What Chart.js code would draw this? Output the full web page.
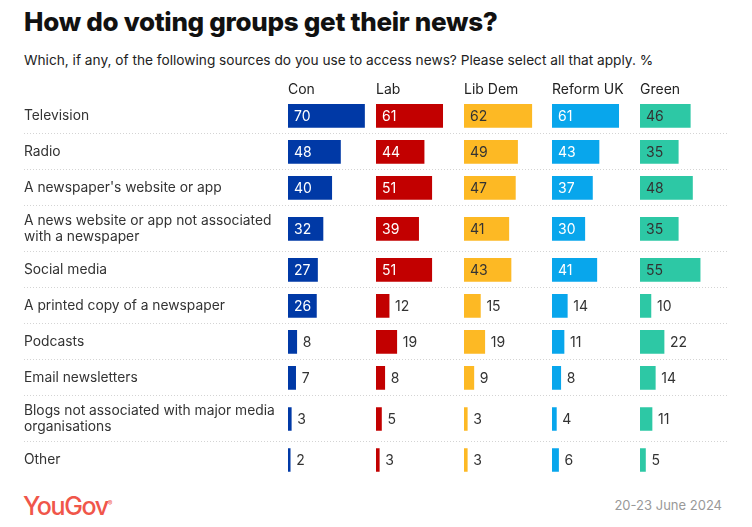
<!DOCTYPE html>
<html lang="en">
<head>
  <meta charset="UTF-8" />
  <title>How do voting groups get their news?</title>
  <script src="https://cdn.jsdelivr.net/npm/chart.js"></script>
  <style>
    body {
      margin: 0;
      width: 752px;
      height: 527px;
      background: #fff;
      font-family: Inter, "Noto Sans", sans-serif;
      position: relative;
      overflow: hidden;
    }

    h1 {
      position: absolute;
      left: 24px;
      top: 6px;
      margin: 0;
      font-size: 26px;
      font-weight: 800;
      color: #111;
      letter-spacing: -0.3px;
    }

    .sub {
      position: absolute;
      left: 24px;
      top: 52px;
      margin: 0;
      font-size: 13.7px;
      color: #222;
    }

    #wrap {
      position: absolute;
      left: 24px;
      top: 77px;
      width: 704px;
      height: 401px;
    }

    .logo {
      position: absolute;
      left: 23px;
      top: 491px;
      font-size: 25px;
      font-weight: 500;
      color: #f0564a;
      letter-spacing: -1.4px;
    }

    .logo sup {
      font-size: 7px;
      letter-spacing: 0;
    }

    .date {
      position: absolute;
      right: 30px;
      top: 497px;
      font-size: 13px;
      color: #999;
    }
  </style>
</head>
<body>
  <h1>How do voting groups get their news?</h1>
  <p class="sub">Which, if any, of the following sources do you use to access news? Please select all that apply. %</p>

  <div id="wrap">
    <canvas id="newsChart"></canvas>
  </div>

  <div class="logo">YouGov<sup>®</sup></div>
  <div class="date">20-23 June 2024</div>

  <script>
    const sources = [
      "Television",
      "Radio",
      "A newspaper's website or app",
      ["A news website or app not associated", "with a newspaper"],
      "Social media",
      "A printed copy of a newspaper",
      "Podcasts",
      "Email newsletters",
      ["Blogs not associated with major media", "organisations"],
      "Other"
    ];
    const parties = ["Con", "Lab", "Lib Dem", "Reform UK", "Green"];
    const con    = [70, 48, 40, 32, 27, 26, 8, 7, 3, 2];
    const lab    = [61, 44, 51, 39, 51, 12, 19, 8, 5, 3];
    const libDem = [62, 49, 47, 41, 43, 15, 19, 9, 3, 3];
    const reform = [61, 43, 37, 30, 41, 14, 11, 8, 4, 6];
    const green  = [46, 35, 48, 35, 55, 10, 22, 14, 11, 5];

    const series = [con, lab, libDem, reform, green];
    const barColors = ["#0039a6", "#c20000", "#fdb924", "#08a6ec", "#2dc8a5"];
    const innerText = ["#ffffff", "#ffffff", "#333333", "#ffffff", "#333333"];

    // rows with two-line labels are a bit taller
    const rowH = sources.map(s => 26 + 10 * (Array.isArray(s) ? s.length : 1));
    const centers = [];
    const edges = [];
    let acc = 0;
    rowH.forEach((h, i) => {
      centers.push(acc + h / 2);
      acc += h;
      if (i < rowH.length - 1) edges.push(acc);
    });
    const total = acc;

    const isEdge = v => edges.some(e => Math.abs(e - v) < 0.01);
    const labelFor = v => {
      const i = centers.findIndex(c => Math.abs(c - v) < 0.01);
      return i >= 0 ? sources[i] : "";
    };

    Chart.defaults.font.family = "Inter, 'Noto Sans', sans-serif";

    const valueLabels = {
      id: "valueLabels",
      afterDatasetsDraw(chart) {
        const ctx = chart.ctx;
        ctx.save();
        ctx.font = "14px Inter, 'Noto Sans', sans-serif";
        ctx.textBaseline = "middle";
        ctx.textAlign = "left";
        chart.data.datasets.forEach((ds, di) => {
          chart.getDatasetMeta(di).data.forEach((bar, i) => {
            const v = ds.data[i].x;
            const inside = v >= 25;
            ctx.fillStyle = inside ? innerText[di] : "#333";
            ctx.fillText(v, inside ? bar.base + 6 : bar.x + 6, bar.y + 1);
          });
        });
        ctx.restore();
      }
    };

    const scales = {
      y: {
        type: "linear",
        reverse: true,
        offset: false,
        min: 0,
        max: total,
        afterBuildTicks: s => {
          s.ticks = [...centers, ...edges].sort((a, b) => a - b).map(v => ({ value: v }));
        },
        afterFit: s => {
          s.width = 264;
          s.paddingTop = 0;
          s.paddingBottom = 0;
        },
        ticks: {
          autoSkip: false,
          crossAlign: "far",
          padding: 0,
          color: "#333",
          font: { size: 13.8 },
          callback: v => labelFor(v)
        },
        grid: {
          offset: false,
          color: c => (c.tick && isEdge(c.tick.value)) ? "#d4d4d4" : "transparent",
          tickColor: c => (c.tick && isEdge(c.tick.value)) ? "#d4d4d4" : "transparent",
          tickLength: 264,
          tickBorderDash: [1, 2],
          lineWidth: 1
        },
        border: { display: false, dash: [1, 2] }
      }
    };

    // top axes in one stack are laid out right-to-left, so add them last party first
    for (let i = parties.length - 1; i >= 0; i--) {
      scales["x" + i] = {
        type: "linear",
        position: "top",
        stack: "parties",
        stackWeight: 1,
        min: 0,
        max: 80.5,
        ticks: { display: false },
        grid: { display: false, drawTicks: false },
        border: { display: false },
        title: {
          display: true,
          text: parties[i],
          align: "start",
          color: "#222",
          font: { size: 14 },
          padding: { top: 4, bottom: 0 }
        }
      };
    }

    new Chart(document.getElementById("newsChart"), {
      type: "bar",
      data: {
        datasets: parties.map((p, i) => ({
          label: p,
          xAxisID: "x" + i,
          yAxisID: "y",
          data: series[i].map((v, r) => ({ x: v, y: centers[r] })),
          backgroundColor: barColors[i],
          barThickness: 23,
          grouped: false
        }))
      },
      options: {
        indexAxis: "y",
        responsive: true,
        maintainAspectRatio: false,
        animation: false,
        layout: { padding: 0 },
        plugins: {
          legend: { display: false },
          tooltip: { enabled: false }
        },
        scales: scales
      },
      plugins: [valueLabels]
    });
  </script>
</body>
</html>
